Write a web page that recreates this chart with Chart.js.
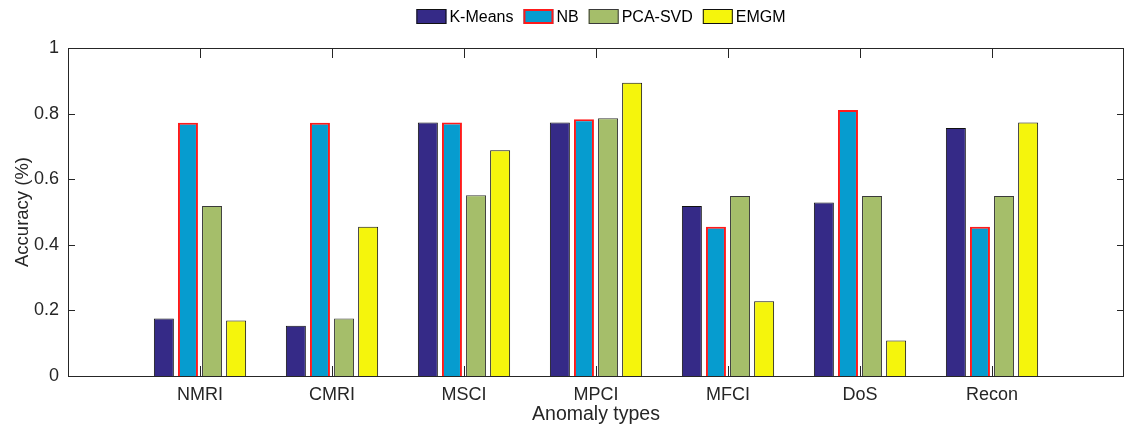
<!DOCTYPE html>
<html>
<head>
<meta charset="utf-8">
<script src="https://cdn.jsdelivr.net/npm/chart.js@4"></script>
<style>
  html, body { margin: 0; padding: 0; background: #fff; }
  #wrap { width: 1125px; height: 426px; position: relative; }
</style>
</head>
<body>
<div id="wrap"><canvas id="c" width="1125" height="426"></canvas></div>
<script>
const categories = ['NMRI', 'CMRI', 'MSCI', 'MPCI', 'MFCI', 'DoS', 'Recon'];
const kmeans = [0.175, 0.153, 0.773, 0.773, 0.518, 0.529, 0.756];
const nb     = [0.772, 0.772, 0.773, 0.783, 0.455, 0.811, 0.455];
const pcasvd = [0.518, 0.175, 0.551, 0.786, 0.549, 0.549, 0.549];
const emgm   = [0.169, 0.455, 0.688, 0.894, 0.228, 0.108, 0.773];
const yTicks = [0, 0.2, 0.4, 0.6, 0.8, 1];
const yTickLabels = ['0', '0.2', '0.4', '0.6', '0.8', '1'];

const FONT = '"Liberation Sans", Arial, Helvetica, sans-serif';
const AX = '#262626';

// pad with empty slots so categories sit at 1..7 of a 0..8 axis
const labels = [''].concat(categories, ['']);
const pad = arr => [null].concat(arr, [null]);

const boxPlugin = {
  id: 'boxPlugin',
  beforeDatasetsDraw(chart) {
    const ctx = chart.ctx, a = chart.chartArea;
    const x = chart.scales.x, y = chart.scales.y;
    ctx.save();
    ctx.strokeStyle = AX;
    ctx.lineWidth = 1;
    ctx.beginPath();
    for (let i = 1; i <= categories.length; i++) {
      const px = Math.round(x.getPixelForValue(i)) + 0.5;
      ctx.moveTo(px, a.bottom); ctx.lineTo(px, a.bottom - 10);
      ctx.moveTo(px, a.top); ctx.lineTo(px, a.top + 10);
    }
    yTicks.forEach(v => {
      const py = Math.round(y.getPixelForValue(v)) + 0.5;
      ctx.moveTo(a.left, py); ctx.lineTo(a.left + 7, py);
      ctx.moveTo(a.right, py); ctx.lineTo(a.right - 7, py);
    });
    ctx.stroke();
    ctx.restore();
  },
  afterDraw(chart) {
    const ctx = chart.ctx, a = chart.chartArea;
    ctx.save();
    ctx.strokeStyle = AX;
    ctx.lineWidth = 1;
    ctx.strokeRect(Math.round(a.left) + 0.5, Math.round(a.top) + 0.5,
                   Math.round(a.right - a.left) - 1, Math.round(a.bottom - a.top));
    // legend
    ctx.font = '16px ' + FONT;
    ctx.textBaseline = 'middle';
    const bw = 30, bh = 15, gap = 3, sp = 10;
    const items = chart.data.datasets.map(d => ({
      label: d.label, fill: d.backgroundColor, stroke: d.borderColor, lw: d.borderWidth,
      w: bw + gap + ctx.measureText(d.label).width
    }));
    const total = items.reduce((s, it) => s + it.w, 0) + sp * (items.length - 1);
    let lx = 601 - total / 2;
    const ly = 9;
    items.forEach(it => {
      ctx.fillStyle = it.fill;
      ctx.fillRect(lx, ly, bw, bh);
      ctx.strokeStyle = it.stroke;
      ctx.lineWidth = it.lw;
      ctx.strokeRect(lx + it.lw / 2, ly + it.lw / 2, bw - it.lw, bh - it.lw);
      ctx.fillStyle = '#000';
      ctx.fillText(it.label, lx + bw + gap, ly + bh / 2 + 1);
      lx += it.w + sp;
    });
    ctx.restore();
  }
};

new Chart(document.getElementById('c'), {
  type: 'bar',
  data: {
    labels: labels,
    datasets: [
      { label: 'K-Means', data: pad(kmeans), backgroundColor: '#352a87', borderColor: '#111111', borderWidth: 1 },
      { label: 'NB', data: pad(nb), backgroundColor: '#069ccf', borderColor: '#ff1a1a', borderWidth: 2 },
      { label: 'PCA-SVD', data: pad(pcasvd), backgroundColor: '#a5be6a', borderColor: '#3a3a3a', borderWidth: 1 },
      { label: 'EMGM', data: pad(emgm), backgroundColor: '#f5f50c', borderColor: '#111111', borderWidth: 1 }
    ]
  },
  options: {
    responsive: false,
    animation: false,
    events: [],
    layout: { padding: { top: 48, right: 1, left: 0, bottom: 0 } },
    plugins: { legend: { display: false }, tooltip: { enabled: false } },
    datasets: { bar: { categoryPercentage: 0.73, barPercentage: 0.83, grouped: true } },
    scales: {
      x: {
        type: 'category',
        offset: false,
        grid: { display: false, drawTicks: false },
        border: { display: false },
        ticks: {
          autoSkip: false, maxRotation: 0, minRotation: 0,
          color: AX, padding: 8,
          font: { family: FONT, size: 18 }
        },
        title: {
          display: true, text: 'Anomaly types', color: AX,
          font: { family: FONT, size: 19.5 }, padding: { top: 0, bottom: 0 }
        },
        afterFit(s) { s.height = 50; s.paddingLeft = 0; s.paddingRight = 0; }
      },
      y: {
        min: 0, max: 1,
        grid: { display: false, drawTicks: false },
        border: { display: false },
        afterBuildTicks(s) { s.ticks = yTicks.map(v => ({ value: v })); },
        ticks: {
          color: AX, padding: 9,
          font: { family: FONT, size: 18 },
          callback: (v, i) => yTickLabels[i]
        },
        title: {
          display: true, text: 'Accuracy (%)', color: AX,
          font: { family: FONT, size: 18.5 }, padding: { top: 12, bottom: 0 }
        },
        afterFit(s) { s.width = 68; }
      }
    }
  },
  plugins: [boxPlugin]
});
</script>
</body>
</html>
